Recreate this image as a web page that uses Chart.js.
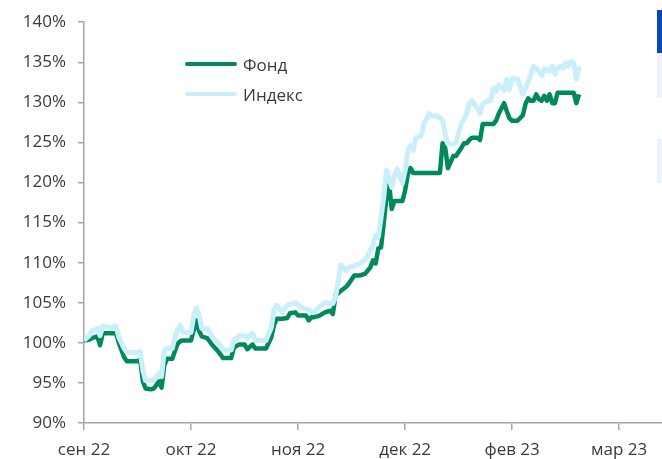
<!DOCTYPE html>
<html>
<head>
<meta charset="utf-8">
<script src="https://cdn.jsdelivr.net/npm/chart.js@4/dist/chart.umd.min.js"></script>
<style>
    html, body { margin: 0; padding: 0; background: #fff; }
    #wrap { position: relative; width: 662px; height: 459px; overflow: hidden; }
    #legend { position: absolute; left: 185px; top: 49px; font: 17px 'Open Sans', sans-serif; color: #3b3b3b; }
    #legend .item { display: flex; align-items: center; height: 30px; }
    #legend .swatch { width: 52px; height: 4px; margin-right: 6px; border-radius: 2px; }
    .edge { position: absolute; right: 0; width: 5px; }
</style>
</head>
<body>
<div id="wrap">
    <canvas id="chart" width="662" height="459"></canvas>
    <div id="legend"></div>
    <div class="edge" style="top:10px;height:47px;background:#0a47b8"></div>
    <div class="edge" style="top:53px;height:45px;background:#eef2fb"></div>
    <div class="edge" style="top:139px;height:44px;background:#eef2fb"></div>
</div>
<script>
    // дни от 1 сен 2022
    const days = [0, 2, 3, 5, 6, 7, 10, 12, 13, 15, 16, 20, 21, 22, 23, 25, 26, 27, 28, 29,
        30, 31, 33, 34, 35, 36, 37, 40, 41, 42, 43, 44, 46, 48, 50, 52, 55, 56, 58, 60,
        61, 63, 64, 68, 70, 71, 72, 74, 76, 77, 79, 80, 81, 83, 84, 85, 86, 88, 90, 92,
        93, 94, 96, 98, 99, 101, 103, 105, 107, 108, 109, 110, 111, 112, 113, 114, 115, 116, 117, 119,
        120, 121, 122, 123, 124, 126, 127, 129, 130, 132, 133, 134, 135, 136, 138, 139, 141, 142, 143, 144,
        145, 147, 148, 149, 151, 152, 153, 154, 155, 157, 158, 159, 160, 162, 164, 165, 166, 167, 168, 169,
        170, 171, 172, 173, 174, 175, 176, 177, 178, 179, 180, 181, 182, 183, 184, 185];

    const fund = [100.3, 100.4, 100.6, 100.8, 99.7, 101.2, 101.2, 101.2, 100.0, 98.2, 97.7, 97.7, 97.9, 95.2, 94.3, 94.2, 94.3, 94.7, 95.2, 94.4,
        97.2, 98.0, 98.0, 99.0, 99.9, 100.2, 100.3, 100.3, 101.6, 102.8, 101.5, 100.8, 100.6, 99.7, 99.0, 98.1, 98.1, 99.4, 99.8, 99.8,
        99.2, 99.8, 99.3, 99.3, 100.7, 102.2, 103.0, 103.0, 103.1, 103.7, 103.8, 103.4, 103.4, 103.4, 102.8, 103.2, 103.2, 103.4, 103.8, 104.0,
        103.6, 105.9, 106.5, 107.0, 107.4, 108.4, 108.4, 108.6, 109.4, 110.3, 109.9, 111.8, 111.9, 114.9, 118.1, 119.9, 116.7, 117.7, 117.7, 117.7,
        119.0, 121.0, 121.8, 121.2, 121.2, 121.2, 121.2, 121.2, 121.2, 121.2, 121.2, 124.9, 124.3, 121.8, 123.3, 123.3, 124.3, 124.9, 124.9, 125.3,
        125.6, 125.6, 125.3, 127.3, 127.3, 127.3, 127.3, 127.7, 128.6, 129.9, 128.9, 128.0, 127.7, 127.7, 128.4, 129.8, 130.5, 130.2, 130.2, 131.0,
        130.4, 130.2, 130.8, 130.2, 131.0, 129.9, 129.9, 131.2, 131.2, 131.2, 131.2, 131.2, 131.2, 131.2, 129.9, 131.0];

    const index = [100.3, 100.9, 101.5, 101.8, 100.9, 102.1, 101.9, 102.1, 100.7, 99.3, 98.8, 98.8, 98.9, 96.6, 95.3, 95.3, 95.3, 95.7, 96.2, 95.8,
        99.1, 99.3, 99.3, 100.7, 101.6, 102.2, 101.3, 101.3, 103.4, 104.4, 103.5, 101.8, 101.8, 100.7, 100.1, 99.1, 99.1, 100.3, 100.9, 100.9,
        100.6, 101.2, 100.3, 100.3, 101.9, 104.1, 104.7, 103.8, 104.7, 104.8, 105.0, 104.8, 104.4, 104.2, 104.1, 103.9, 103.8, 104.5, 105.0, 104.9,
        104.9, 105.7, 109.7, 109.0, 109.4, 109.6, 109.9, 110.3, 111.5, 112.2, 113.4, 113.2, 115.6, 118.1, 121.5, 120.5, 119.4, 120.8, 121.7, 119.9,
        121.5, 124.0, 124.6, 124.0, 125.6, 125.8, 127.3, 128.6, 128.3, 128.3, 128.1, 127.8, 126.0, 124.8, 124.8, 125.0, 127.4, 127.9, 128.6, 129.9,
        130.2, 129.3, 128.6, 129.8, 130.2, 130.2, 131.8, 131.4, 132.2, 131.5, 132.9, 131.6, 133.0, 132.9, 131.0, 131.8, 132.6, 133.5, 134.5, 134.2,
        133.9, 133.3, 134.2, 134.0, 133.9, 134.5, 133.5, 134.3, 134.5, 134.2, 134.9, 134.5, 135.1, 134.9, 132.9, 134.5];

    const tickDays = [0, 40, 80, 120, 160, 200];
    const tickLabels = ['сен 22', 'окт 22', 'ноя 22', 'дек 22', 'фев 23', 'мар 23'];
    const yTicks = [90, 95, 100, 105, 110, 115, 120, 125, 130, 135, 140];

    const GREEN = '#008a5c';
    const BLUE = '#c9effb';
    const AXIS = '#a6a6a6';
    const TEXT = '#3b3b3b';
    const FONT = { family: "'Open Sans', sans-serif", size: 17 };

    const toPoints = vals => days.map((d, i) => ({ x: d, y: vals[i] }));

    const series = [
        { label: 'Фонд', data: fund, color: GREEN, width: 4.5 },
        { label: 'Индекс', data: index, color: BLUE, width: 5 },
    ];

    // индекс рисуем первым, фонд поверх
    const datasets = series.slice().reverse().map(s => ({
        label: s.label,
        data: toPoints(s.data),
        borderColor: s.color,
        borderWidth: s.width,
        pointRadius: 0,
        tension: 0,
        fill: false,
        borderJoinStyle: 'round',
    }));

    new Chart(document.getElementById('chart'), {
        type: 'line',
        data: { datasets: datasets },
        options: {
            responsive: false,
            animation: false,
            layout: { padding: { top: 21, right: 0, left: 0, bottom: 0 } },
            plugins: { legend: { display: false }, tooltip: { enabled: false } },
            scales: {
                x: {
                    type: 'linear',
                    min: 0,
                    max: 216,
                    afterBuildTicks: axis => { axis.ticks = tickDays.map(v => ({ value: v })); },
                    afterFit: axis => { axis.height = 36; },
                    border: { color: AXIS, width: 1.5 },
                    grid: { drawOnChartArea: false, color: AXIS, lineWidth: 1.5, tickLength: 7 },
                    ticks: {
                        color: TEXT,
                        font: FONT,
                        padding: 10,
                        maxRotation: 0,
                        autoSkip: false,
                        callback: v => tickLabels[tickDays.indexOf(v)] || '',
                    },
                },
                y: {
                    min: 90,
                    max: 140,
                    afterBuildTicks: axis => { axis.ticks = yTicks.map(v => ({ value: v })); },
                    afterFit: axis => { axis.width = 84; },
                    border: { color: AXIS, width: 1.5 },
                    grid: { drawOnChartArea: false, color: AXIS, lineWidth: 1.5, tickLength: 6 },
                    ticks: {
                        color: TEXT,
                        font: FONT,
                        padding: 12,
                        callback: v => v + '%',
                    },
                },
            },
        },
    });

    // легенда
    const legend = document.getElementById('legend');
    series.forEach(s => {
        const item = document.createElement('div');
        item.className = 'item';
        item.innerHTML = '<span class="swatch" style="background:' + s.color + '"></span>' + s.label;
        legend.appendChild(item);
    });
</script>
</body>
</html>
